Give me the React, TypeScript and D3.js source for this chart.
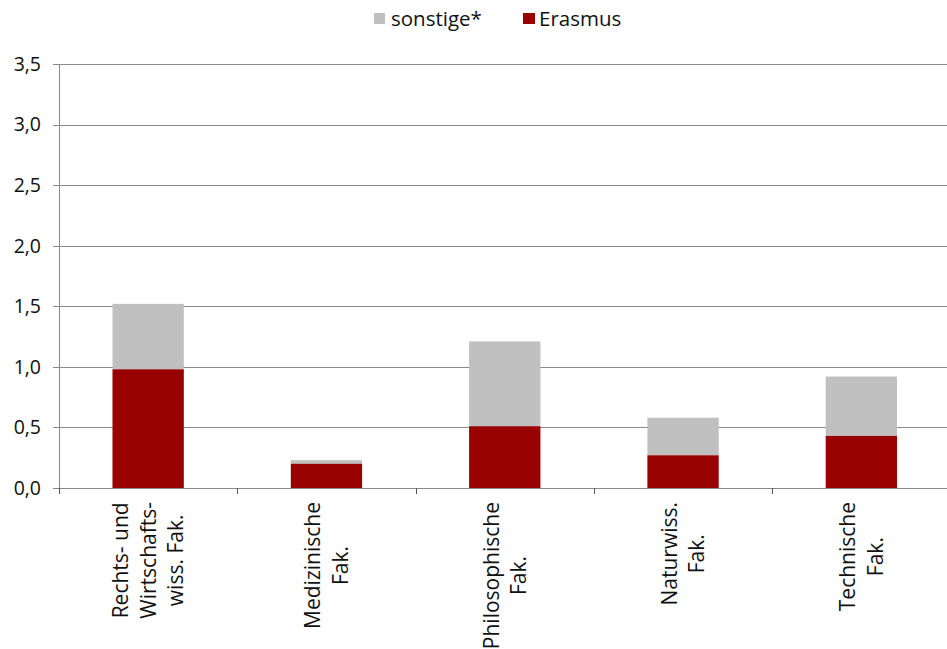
import React, { useEffect, useRef } from "react";
import * as d3 from "d3";

const categories: string[][] = [
  ["Rechts- und", "Wirtschafts-", "wiss. Fak."],
  ["Medizinische", "Fak."],
  ["Philosophische", "Fak."],
  ["Naturwiss.", "Fak."],
  ["Technische", "Fak."],
];
const erasmus = [0.98, 0.2, 0.51, 0.27, 0.43];
const sonstige = [0.54, 0.03, 0.7, 0.31, 0.49];
const yTicks = [0, 0.5, 1, 1.5, 2, 2.5, 3, 3.5];
const seriesNames = ["sonstige*", "Erasmus"];
const colors = { sonstige: "#c0c0c0", erasmus: "#990000" };

const W = 947;
const H = 649;
const FONT = "'Open Sans', 'Noto Sans', sans-serif";

export default function App() {
  const ref = useRef<SVGSVGElement>(null);

  useEffect(() => {
    const svg = d3.select(ref.current);
    svg.selectAll("*").remove();

    const left = 59;
    const right = 950.5;
    const top = 64;
    const bottom = 488;

    const x = d3.scaleBand<number>().domain(d3.range(categories.length)).range([left, right]).paddingInner(0.6).paddingOuter(0.3);
    const xb = d3.scaleBand<number>().domain(d3.range(categories.length)).range([left, right]);
    const y = d3.scaleLinear().domain([0, 3.5]).range([bottom, top]);

    // gridlines
    svg.append("g")
      .selectAll("line")
      .data(yTicks.filter((t) => t > 0))
      .join("line")
      .attr("x1", left)
      .attr("x2", W)
      .attr("y1", (d) => Math.round(y(d)) + 0.5)
      .attr("y2", (d) => Math.round(y(d)) + 0.5)
      .attr("stroke", "#8a8a8a")
      .attr("stroke-width", 1);

    // bars
    const g = svg.append("g");
    categories.forEach((_, i) => {
      const e = erasmus[i];
      const s = sonstige[i];
      g.append("rect")
        .attr("x", x(i)!)
        .attr("width", x.bandwidth())
        .attr("y", y(e + s))
        .attr("height", y(e) - y(e + s))
        .attr("fill", colors.sonstige);
      g.append("rect")
        .attr("x", x(i)!)
        .attr("width", x.bandwidth())
        .attr("y", y(e))
        .attr("height", y(0) - y(e))
        .attr("fill", colors.erasmus);
    });

    // y axis
    const ya = svg.append("g");
    ya.append("line")
      .attr("x1", left + 0.5).attr("x2", left + 0.5)
      .attr("y1", top).attr("y2", bottom)
      .attr("stroke", "#8a8a8a");
    ya.selectAll("line.tk")
      .data(yTicks)
      .join("line")
      .attr("class", "tk")
      .attr("x1", left - 6).attr("x2", left)
      .attr("y1", (d) => Math.round(y(d)) + 0.5)
      .attr("y2", (d) => Math.round(y(d)) + 0.5)
      .attr("stroke", "#8a8a8a");
    ya.selectAll("text")
      .data(yTicks)
      .join("text")
      .attr("x", 41)
      .attr("y", (d) => y(d))
      .attr("dy", "0.35em")
      .attr("text-anchor", "end")
      .attr("font-family", FONT)
      .attr("font-size", 19.5)
      .attr("fill", "#111")
      .text((d) => d3.format(".1f")(d).replace(".", ","));

    // x axis
    svg.append("line")
      .attr("x1", left).attr("x2", W)
      .attr("y1", bottom + 0.5).attr("y2", bottom + 0.5)
      .attr("stroke", "#8a8a8a");
    svg.selectAll("line.xt")
      .data(d3.range(categories.length + 1))
      .join("line")
      .attr("class", "xt")
      .attr("x1", (d) => Math.round(left + d * xb.step()) + 0.5)
      .attr("x2", (d) => Math.round(left + d * xb.step()) + 0.5)
      .attr("y1", bottom)
      .attr("y2", bottom + 6)
      .attr("stroke", "#555");

    // x labels
    const lineH = 27.5;
    const fs = 21;
    categories.forEach((lines, i) => {
      const cx = xb(i)! + xb.bandwidth() / 2;
      const lg = svg.append("g");
      const texts = lines.map((ln) =>
        lg.append("text")
          .attr("font-family", FONT)
          .attr("font-size", fs)
          .attr("fill", "#111")
          .attr("text-anchor", "middle")
          .text(ln)
      );
      const maxW = d3.max(texts, (t) => (t.node() as SVGTextElement).getComputedTextLength()) || 0;
      const cy = 502 + maxW / 2;
      texts.forEach((t, j) => {
        const lx = cx + (j - (lines.length - 1) / 2) * lineH + fs * 0.36;
        t.attr("transform", `translate(${lx},${cy}) rotate(-90)`);
      });
    });

    // legend
    const leg = svg.append("g");
    const lfs = 20.5;
    leg.append("rect").attr("x", 374).attr("y", 13).attr("width", 11).attr("height", 11).attr("fill", colors.sonstige);
    leg.append("text").attr("x", 391).attr("y", 26).attr("font-family", FONT).attr("font-size", lfs).attr("fill", "#111").text(seriesNames[0]);
    leg.append("rect").attr("x", 523).attr("y", 13).attr("width", 12).attr("height", 11).attr("fill", colors.erasmus);
    leg.append("text").attr("x", 539).attr("y", 26).attr("font-family", FONT).attr("font-size", lfs).attr("fill", "#111").text(seriesNames[1]);
  }, []);

  return (
    <svg ref={ref} width={W} height={H} style={{ position: "absolute", left: 0, top: 0, background: "#fff" }} />
  );
}
